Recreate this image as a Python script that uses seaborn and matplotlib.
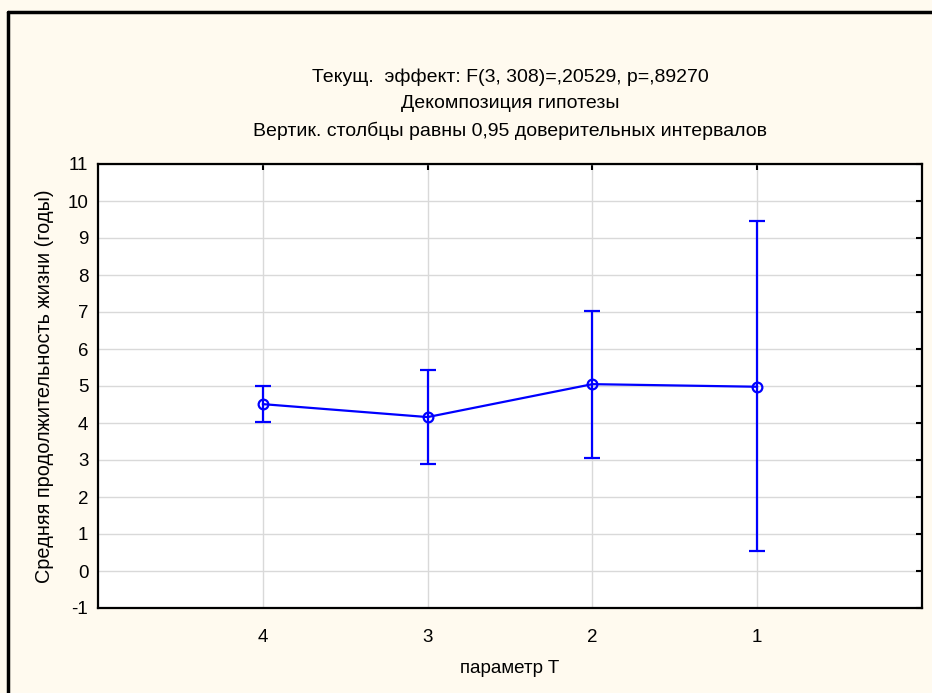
import matplotlib
matplotlib.use("Agg")
import matplotlib.pyplot as plt
import seaborn as sns
import pandas as pd
import numpy as np
from matplotlib.lines import Line2D

categories = ["4", "3", "2", "1"]
means = [4.51, 4.16, 5.05, 4.98]
ci_low = [4.03, 2.90, 3.05, 0.53]
ci_high = [5.00, 5.42, 7.04, 9.45]

title_lines = ["Текущ.  эффект: F(3, 308)=,20529, p=,89270",
               "Декомпозиция гипотезы",
               "Вертик. столбцы равны 0,95 доверительных интервалов"]
xlabel = "параметр T"
ylabel = "Средняя продолжительность жизни (годы)"
yticks = list(range(-1, 12))

sns.set_theme(style="white")
plt.rcParams['font.family'] = ['Liberation Sans', 'DejaVu Sans']

bg = "#FFFAEF"
blue = "#0000FF"
fig = plt.figure(figsize=(9.32, 6.93), dpi=100, facecolor=bg)
ax = fig.add_axes([98/932, 1-608/693, (922-98)/932, (608-164)/693])
ax.set_facecolor("white")

df = pd.DataFrame({"cat": categories, "mean": means})
sns.pointplot(data=df, x="cat", y="mean", order=categories, errorbar=None,
              color=blue, markers="o", linestyles="-", ax=ax,
              markersize=7, linewidth=1.6,
              markerfacecolor="none", markeredgecolor=blue, markeredgewidth=1.6)
xs = np.arange(len(categories))
m = np.array(means)
ax.errorbar(xs, m, yerr=[m - np.array(ci_low), np.array(ci_high) - m],
            fmt="none", ecolor=blue, elinewidth=1.6, capsize=6, capthick=1.6, zorder=3)

ax.set_xlim(-1, len(categories))
ax.set_ylim(-1, 11)
ax.set_yticks(yticks)
ax.set_yticklabels([str(v) for v in yticks])
ax.set_xticks(xs)
ax.set_xticklabels(categories)
ax.grid(True, color="#D9D9D9", linewidth=1.0)
ax.set_axisbelow(True)
for s in ax.spines.values():
    s.set_visible(True)
    s.set_color("black")
    s.set_linewidth(1.6)
ax.tick_params(axis="both", which="both", direction="in", length=4, width=1.5,
               colors="black", labelsize=13.5, top=True, right=True,
               labeltop=False, labelright=False, pad=7)
ax.tick_params(axis="x", pad=15)
ax.set_xlabel(xlabel, fontsize=13.5, labelpad=10, color="black")
ax.set_ylabel(ylabel, fontsize=14.3, labelpad=10, color="black")

for i, (t, y) in enumerate(zip(title_lines, [77, 104, 131])):
    fig.text(510/932, 1 - y/693, t, ha="center", va="center", fontsize=14,
             color="black")

# figure frame (left and top)
fig.add_artist(Line2D([8/932, 8/932], [0, 1 - 12/693], transform=fig.transFigure,
                      color="black", linewidth=2.5))
fig.add_artist(Line2D([8/932, 1], [1 - 12/693, 1 - 12/693], transform=fig.transFigure,
                      color="black", linewidth=2.5))

fig.savefig("out.png", dpi=100, facecolor=bg)
